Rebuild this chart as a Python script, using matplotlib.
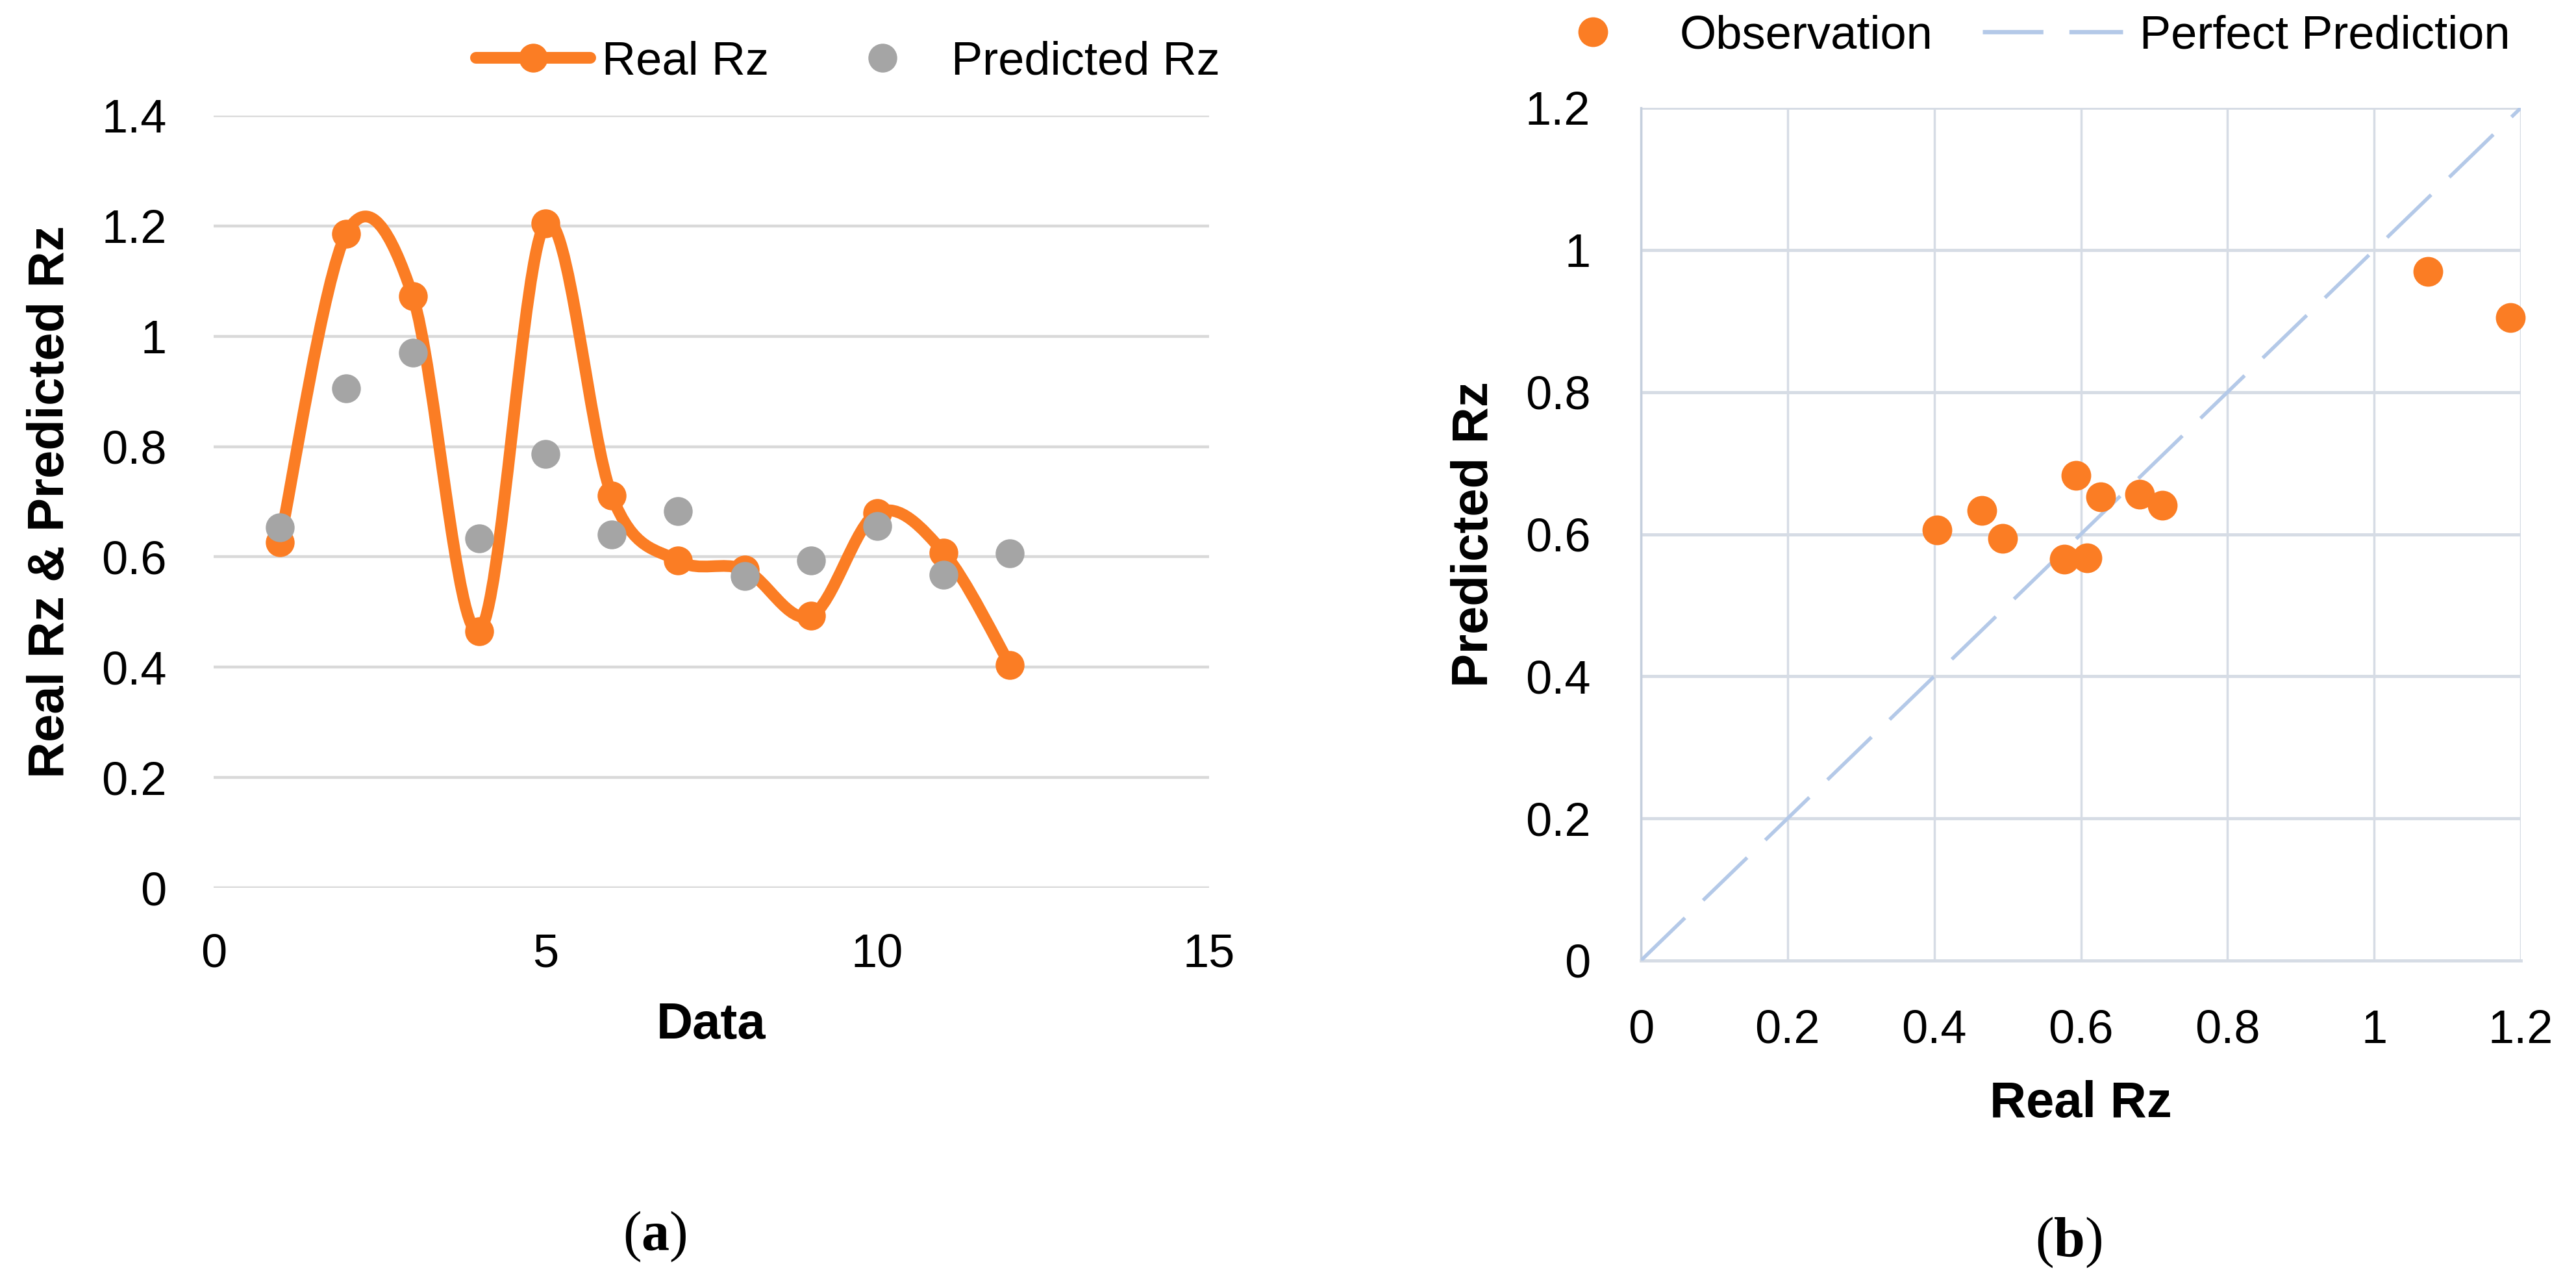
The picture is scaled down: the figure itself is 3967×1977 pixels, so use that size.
import numpy as np
import matplotlib
matplotlib.use('Agg')
import matplotlib.pyplot as plt
from matplotlib.path import Path
from matplotlib.patches import PathPatch
from matplotlib.lines import Line2D
from matplotlib.ticker import FuncFormatter

plt.rcParams['font.family'] = ['Liberation Sans', 'DejaVu Sans']
plt.rcParams['mathtext.fontset'] = 'custom'
plt.rcParams['mathtext.rm'] = 'Liberation Serif'
plt.rcParams['mathtext.bf'] = 'Liberation Serif:bold'

# data
data_idx = [1, 2, 3, 4, 5, 6, 7, 8, 9, 10, 11, 12]
real_rz = [0.627, 1.186, 1.073, 0.465, 1.204, 0.711, 0.593, 0.577, 0.493, 0.680, 0.608, 0.404]
pred_rz = [0.653, 0.905, 0.970, 0.633, 0.786, 0.641, 0.683, 0.565, 0.594, 0.656, 0.567, 0.606]
perfect = [0, 1.2]

left_yticks = [0, 0.2, 0.4, 0.6, 0.8, 1.0, 1.2, 1.4]
left_xticks = [0, 5, 10, 15]
right_ticks = [0, 0.2, 0.4, 0.6, 0.8, 1.0, 1.2]

ORANGE = '#fb7d24'
GRAY = '#a5a5a5'
DIAG = '#b4c9e8'
FS = 52


def smooth_path(xs, ys):
    # excel style smoothed line (catmull-rom as bezier)
    pts = np.column_stack([xs, ys]).astype(float)
    n = len(pts)
    verts = [pts[0]]
    codes = [Path.MOVETO]
    for i in range(n - 1):
        p0 = pts[i - 1] if i > 0 else pts[i]
        p1 = pts[i]
        p2 = pts[i + 1]
        p3 = pts[i + 2] if i + 2 < n else pts[i + 1]
        verts += [p1 + (p2 - p0) / 6, p2 - (p3 - p1) / 6, p2]
        codes += [Path.CURVE4] * 3
    return Path(verts, codes)


fmt = FuncFormatter(lambda v, p: '%g' % round(v, 2))

fig = plt.figure(figsize=(39.67, 19.77), dpi=100)

# ---- (a) ----
ax1 = fig.add_axes([0.0829, 0.3085, 0.3865, 0.6015])
ax1.set_xlim(0, 15)
ax1.set_ylim(0, 1.4)
for s in ax1.spines.values():
    s.set_visible(False)
ax1.set_yticks(left_yticks)
ax1.set_xticks(left_xticks)
ax1.yaxis.set_major_formatter(fmt)
ax1.xaxis.set_major_formatter(fmt)
ax1.tick_params(length=0, labelsize=FS)
ax1.tick_params(axis='y', pad=52)
ax1.tick_params(axis='x', pad=50)
ax1.yaxis.grid(True, color='#d9d9d9', lw=3.2)
ax1.set_axisbelow(True)

ax1.add_patch(PathPatch(smooth_path(data_idx, real_rz), facecolor='none',
                        edgecolor=ORANGE, lw=13, capstyle='round', joinstyle='round',
                        zorder=3))
ax1.plot(data_idx, real_rz, 'o', color=ORANGE, ms=31, ls='none', zorder=4)
ax1.plot(data_idx, pred_rz, 'o', color=GRAY, ms=31, ls='none', zorder=5)

ax1.set_xlabel('Data', fontsize=56, fontweight='bold', labelpad=28)
ax1.set_ylabel('Real Rz & Predicted Rz', fontsize=56, fontweight='bold', labelpad=30)

h1 = [Line2D([], [], color=ORANGE, lw=13, marker='o', ms=31, solid_capstyle='round'),
      Line2D([], [], color=GRAY, ls='none', marker='o', ms=31)]
fig.legend(h1, ['Real Rz', 'Predicted Rz'], loc='center left',
           bbox_to_anchor=(733 / 3967, 1 - 96 / 1977), ncol=2, frameon=False,
           fontsize=FS, handlelength=2.44, handletextpad=0.25, columnspacing=1.2,
           borderpad=0, borderaxespad=0)

# ---- (b) ----
ax2 = fig.add_axes([0.637, 0.2519, 0.3416, 0.6641])
ax2.set_xlim(0, 1.2)
ax2.set_ylim(0, 1.2)
ax2.set_xticks(right_ticks)
ax2.set_yticks(right_ticks)
ax2.xaxis.set_major_formatter(fmt)
ax2.yaxis.set_major_formatter(fmt)
ax2.tick_params(length=0, labelsize=FS)
ax2.tick_params(axis='y', pad=56)
ax2.tick_params(axis='x', pad=54)
ax2.yaxis.grid(True, color='#d6dce5', lw=3.5)
ax2.xaxis.grid(True, color='#d6dce5', lw=2.5)
ax2.set_axisbelow(True)
for k in ['top', 'right']:
    ax2.spines[k].set_visible(False)
ax2.spines['left'].set_color('#c5cfdd')
ax2.spines['left'].set_linewidth(2.5)
ax2.spines['bottom'].set_color('#d6dce5')
ax2.spines['bottom'].set_linewidth(3.5)

ax2.plot(perfect, perfect, color=DIAG, lw=4, dashes=(17, 7), zorder=3)
real_arr = np.array(real_rz)
pred_arr = np.array(pred_rz)
shown = real_arr <= 1.2
ax2.plot(real_arr[shown], pred_arr[shown], 'o', color=ORANGE, ms=32, ls='none',
         zorder=4, clip_on=False)

ax2.set_xlabel('Real Rz', fontsize=56, fontweight='bold', labelpad=30)
ax2.set_ylabel('Predicted Rz', fontsize=56, fontweight='bold', labelpad=30)

h2 = [Line2D([], [], color=ORANGE, ls='none', marker='o', ms=32),
      Line2D([], [], color=DIAG, lw=4.8, dashes=(14, 6))]
fig.legend(h2, ['Observation', 'Perfect Prediction'], loc='center left',
           bbox_to_anchor=(2345 / 3967, 1 - 56 / 1977), ncol=2, frameon=False,
           fontsize=FS, handlelength=3.0, handletextpad=0.35, columnspacing=1.05,
           borderpad=0, borderaxespad=0)

# captions
fig.text(1008 / 3967, 1 - 1904 / 1977, r'($\mathbf{a}$)', fontsize=62,
         family='Liberation Serif', ha='center', va='center')
fig.text(3186 / 3967, 1 - 1913 / 1977, r'($\mathbf{b}$)', fontsize=62,
         family='Liberation Serif', ha='center', va='center')

fig.savefig('out.png', dpi=100)
